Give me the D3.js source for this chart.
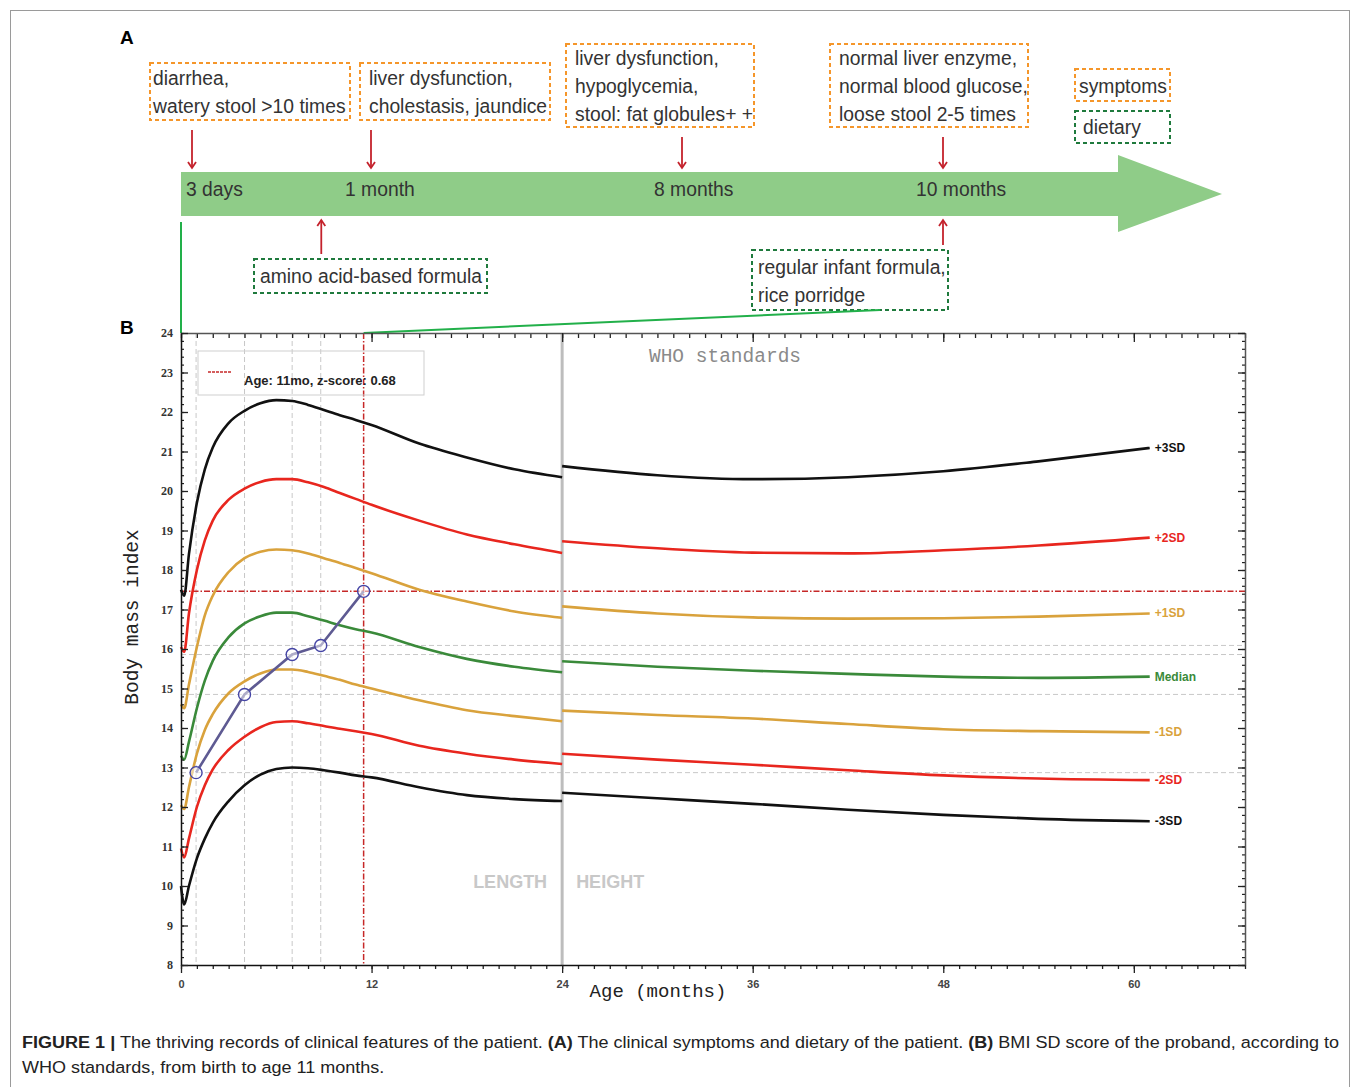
<!DOCTYPE html>
<html>
<head>
<meta charset="utf-8">
<script src="https://cdn.jsdelivr.net/npm/d3@7"></script>
<style>
  body { margin: 0; background: #fff; }
  svg { display: block; }
</style>
</head>
<body>
<svg width="1360" height="1087"></svg>
<script>
// ---- data ----
const ageLength = [0, 0.2, 0.5, 1, 1.5, 2, 3, 4, 5, 6, 7, 8, 9, 10, 11, 12, 15, 18, 21, 24];
const ageHeight = [24, 30, 36, 42, 48, 54, 61];

const sdLabels = ['+3SD', '+2SD', '+1SD', 'Median', '-1SD', '-2SD', '-3SD'];

const bmiLengthP3 = [17.5, 17.35, 18.4, 19.7, 20.55, 21.1, 21.72, 22.03, 22.22, 22.3, 22.28, 22.18, 22.05, 21.92, 21.8, 21.67, 21.2, 20.85, 20.55, 20.35];
const bmiLengthP2 = [16.05, 15.93, 16.9, 18.0, 18.75, 19.25, 19.78, 20.06, 20.23, 20.3, 20.3, 20.22, 20.1, 19.95, 19.8, 19.65, 19.25, 18.9, 18.65, 18.43];
const bmiLengthP1 = [14.6, 14.5, 15.1, 16.05, 16.85, 17.35, 17.95, 18.3, 18.46, 18.52, 18.5, 18.42, 18.3, 18.18, 18.05, 17.92, 17.5, 17.2, 16.95, 16.79];
const bmiLengthMed = [13.3, 13.2, 13.65, 14.5, 15.2, 15.7, 16.3, 16.65, 16.83, 16.92, 16.92, 16.83, 16.72, 16.6, 16.5, 16.42, 16.05, 15.75, 15.55, 15.41];
const bmiLengthM1 = [12.05, 11.95, 12.5, 13.35, 13.95, 14.35, 14.88, 15.18, 15.38, 15.48, 15.48, 15.42, 15.32, 15.22, 15.1, 15.0, 14.7, 14.45, 14.3, 14.17];
const bmiLengthM2 = [10.95, 10.72, 11.2, 12.0, 12.55, 12.95, 13.45, 13.78, 14.02, 14.15, 14.17, 14.12, 14.05, 13.98, 13.92, 13.85, 13.55, 13.35, 13.2, 13.09];
const bmiLengthM3 = [10.0, 9.53, 10.0, 10.7, 11.2, 11.6, 12.15, 12.55, 12.82, 12.96, 13.0, 12.98, 12.93, 12.87, 12.8, 12.75, 12.5, 12.3, 12.2, 12.15];

const bmiHeightP3 = [20.63, 20.4, 20.3, 20.35, 20.5, 20.75, 21.09];
const bmiHeightP2 = [18.73, 18.55, 18.44, 18.42, 18.5, 18.62, 18.82];
const bmiHeightP1 = [17.08, 16.9, 16.8, 16.77, 16.78, 16.82, 16.9];
const bmiHeightMed = [15.69, 15.55, 15.45, 15.37, 15.3, 15.27, 15.3];
const bmiHeightM1 = [14.44, 14.33, 14.24, 14.1, 13.97, 13.92, 13.89];
const bmiHeightM2 = [13.35, 13.2, 13.07, 12.93, 12.8, 12.72, 12.68];
const bmiHeightM3 = [12.36, 12.22, 12.08, 11.93, 11.8, 11.7, 11.64];

const patientAge = [0.95, 4, 7, 8.8, 11.5];
const patientBmi = [12.87, 14.85, 15.86, 16.09, 17.46];

const xTicks = [0, 12, 24, 36, 48, 60];
const yTicks = d3.range(8, 25, 1);

const legendText = 'Age: 11mo, z-score: 0.68';

const eventLabels = ['3 days', '1 month', '8 months', '10 months'];
const eventAges = [0.1, 1, 8, 10];
const symptomLines = [
    ['diarrhea,', 'watery stool >10 times'],
    ['liver dysfunction,', 'cholestasis, jaundice'],
    ['liver dysfunction,', 'hypoglycemia,', 'stool: fat globules+ +'],
    ['normal liver enzyme,', 'normal blood glucose,', 'loose stool 2-5 times']
];
const dietAges = [0.75, 10];
const dietLines = [
    ['amino acid-based formula'],
    ['regular infant formula,', 'rice porridge']
];

// ---- setup ----
const svg = d3.select('svg');
const sansFont = "'Liberation Sans', Arial, sans-serif";
const monoFont = "'Liberation Mono', 'Courier New', monospace";
const orange = '#f5962a';
const dietGreen = '#1f7a3d';
const arrowRed = '#c4222c';

svg.append('rect')
    .attr('x', 10.5).attr('y', 10.5)
    .attr('width', 1339).attr('height', 1100)
    .attr('fill', 'none').attr('stroke', '#9a9a9a');

// ---- panel A ----
svg.append('text').attr('x', 120).attr('y', 44)
    .attr('font-family', sansFont).attr('font-weight', 'bold').attr('font-size', 19)
    .text('A');

// red arrow with a small open head; dir = 1 points down, -1 points up
function redArrow(ax, y1, y2) {
    const dir = y2 > y1 ? 1 : -1;
    svg.append('line')
        .attr('x1', ax).attr('x2', ax).attr('y1', y1).attr('y2', y2)
        .attr('stroke', arrowRed).attr('stroke-width', 1.8);
    svg.append('path')
        .attr('d', `M${ax - 4},${y2 - dir * 6} L${ax},${y2} L${ax + 4},${y2 - dir * 6}`)
        .attr('fill', 'none').attr('stroke', arrowRed).attr('stroke-width', 1.8);
}

// timeline arrow
const tl = d3.scaleLinear().domain(eventAges).range([192, 371, 682, 943]);
const barTop = 172, barBottom = 216, barEnd = 1118;
svg.append('path')
    .attr('d', `M181,${barTop} L${barEnd},${barTop} L${barEnd},155 L1222,194 L${barEnd},232 L${barEnd},${barBottom} L181,${barBottom} Z`)
    .attr('fill', '#8fcc88');

const labelShift = [-6, -26, -28, -27];
eventLabels.forEach((lab, i) => {
    svg.append('g')
        .attr('transform', `translate(${tl(eventAges[i]) + labelShift[i]},196) scale(0.92,1)`)
        .append('text')
        .attr('font-family', sansFont).attr('font-size', 21).attr('fill', '#333')
        .text(lab);
});

function dashedBox(x0, y0, x1, y1, color) {
    svg.append('rect')
        .attr('x', x0).attr('y', y0)
        .attr('width', x1 - x0).attr('height', y1 - y0)
        .attr('fill', 'none').attr('stroke', color)
        .attr('stroke-width', 2).attr('stroke-dasharray', '4,3');
}

function boxText(lines, tx, ty, step) {
    lines.forEach((txt, j) => {
        svg.append('g')
            .attr('transform', `translate(${tx},${ty + j * step}) scale(0.92,1)`)
            .append('text')
            .attr('font-family', sansFont).attr('font-size', 21).attr('fill', '#333')
            .text(txt);
    });
}

// symptom boxes above the bar
const symptomBoxes = [[150, 63, 350, 120], [360, 63, 550, 120], [566, 44, 754, 127], [830, 44, 1028, 127]];
symptomLines.forEach((lines, i) => {
    const b = symptomBoxes[i];
    dashedBox(b[0], b[1], b[2], b[3], orange);
    boxText(lines, b[0] + 3 + (i === 0 ? 0 : 6), lines.length === 2 ? 85 : 65, 28);
    redArrow(tl(eventAges[i]), b[3] + 10, 168);
});

// dietary boxes below the bar
const dietBoxes = [[254, 259, 487, 293], [752, 250, 948, 310]];
dietLines.forEach((lines, i) => {
    const b = dietBoxes[i];
    dashedBox(b[0], b[1], b[2], b[3], dietGreen);
    boxText(lines, b[0] + 6, b[1] + 24, 28);
    redArrow(tl(dietAges[i]), b[1] - 5, barBottom + 4);
});

// legend boxes
dashedBox(1075, 69, 1170, 101, orange);
boxText(['symptoms'], 1079, 93, 0);
dashedBox(1075, 111, 1170, 143, dietGreen);
boxText(['dietary'], 1083, 134, 0);

// ---- panel B ----
svg.append('text').attr('x', 120).attr('y', 334)
    .attr('font-family', sansFont).attr('font-weight', 'bold').attr('font-size', 19)
    .text('B');

const pLeft = 181, pRight = 1245, pTop = 333, pBottom = 965;
const x = d3.scaleLinear().domain([0, 67]).range([pLeft, pRight]);
const y = d3.scaleLinear().domain([8, 24]).range([pBottom, pTop]);

// green connectors between panels
svg.append('line')
    .attr('x1', pLeft).attr('x2', pLeft).attr('y1', barBottom + 6).attr('y2', pTop)
    .attr('stroke', '#22b04a').attr('stroke-width', 2);
svg.append('line')
    .attr('x1', x(patientAge[patientAge.length - 1])).attr('y1', pTop)
    .attr('x2', 880).attr('y2', 310)
    .attr('stroke', '#22b04a').attr('stroke-width', 2);

const plot = svg.append('g');

// reference dashed lines of the patient measurements
const nPts = patientAge.length;
const markRed = '#c62828';
patientAge.forEach((a, i) => {
    const last = i === nPts - 1;
    plot.append('line')
        .attr('x1', x(a)).attr('x2', x(a)).attr('y1', pTop).attr('y2', pBottom)
        .attr('stroke', last ? markRed : '#c8c8c8')
        .attr('stroke-width', last ? 1.5 : 1)
        .attr('stroke-dasharray', last ? '6,2,1.5,2' : '5,3');
    plot.append('line')
        .attr('x1', pLeft).attr('x2', pRight).attr('y1', y(patientBmi[i])).attr('y2', y(patientBmi[i]))
        .attr('stroke', last ? markRed : '#c8c8c8')
        .attr('stroke-width', last ? 1.5 : 1)
        .attr('stroke-dasharray', last ? '6,2,1.5,2' : '5,3');
});

// length / height divider
plot.append('line')
    .attr('x1', x(24)).attr('x2', x(24)).attr('y1', pTop).attr('y2', pBottom)
    .attr('stroke', '#bdbdbd').attr('stroke-width', 3);

plot.append('text').attr('x', x(24) - 15).attr('y', 888).attr('text-anchor', 'end')
    .attr('font-family', sansFont).attr('font-weight', 'bold').attr('font-size', 18)
    .attr('fill', '#c8c8c8').text('LENGTH');
plot.append('text').attr('x', x(24) + 14).attr('y', 888)
    .attr('font-family', sansFont).attr('font-weight', 'bold').attr('font-size', 18)
    .attr('fill', '#c8c8c8').text('HEIGHT');

plot.append('text').attr('x', 725).attr('y', 362).attr('text-anchor', 'middle')
    .attr('font-family', monoFont).attr('font-size', 19.5).attr('fill', '#8a8a8a')
    .text('WHO standards');

// curves
const lengthSeries = [bmiLengthP3, bmiLengthP2, bmiLengthP1, bmiLengthMed, bmiLengthM1, bmiLengthM2, bmiLengthM3];
const heightSeries = [bmiHeightP3, bmiHeightP2, bmiHeightP1, bmiHeightMed, bmiHeightM1, bmiHeightM2, bmiHeightM3];
const curveColors = ['#111111', '#e8261e', '#d9a23c', '#3a8a3a', '#d9a23c', '#e8261e', '#111111'];

const curve = d3.line()
    .x(d => x(d[0]))
    .y(d => y(d[1]))
    .curve(d3.curveMonotoneX);

lengthSeries.forEach((vals, i) => {
    plot.append('path')
        .attr('d', curve(ageLength.map((a, k) => [a, vals[k]])))
        .attr('fill', 'none').attr('stroke', curveColors[i]).attr('stroke-width', 2.6);
});
heightSeries.forEach((vals, i) => {
    plot.append('path')
        .attr('d', curve(ageHeight.map((a, k) => [a, vals[k]])))
        .attr('fill', 'none').attr('stroke', curveColors[i]).attr('stroke-width', 2.6);
    plot.append('text')
        .attr('x', x(ageHeight[ageHeight.length - 1]) + 5)
        .attr('y', y(vals[vals.length - 1]) + 4)
        .attr('font-family', sansFont).attr('font-weight', 'bold').attr('font-size', 12)
        .attr('fill', curveColors[i])
        .text(sdLabels[i]);
});

// patient trajectory
const pts = patientAge.map((a, i) => [a, patientBmi[i]]);
plot.append('path')
    .attr('d', d3.line().x(d => x(d[0])).y(d => y(d[1]))(pts))
    .attr('fill', 'none').attr('stroke', '#5e5a92').attr('stroke-width', 2.6);
plot.selectAll('circle.pt').data(pts).join('circle')
    .attr('class', 'pt')
    .attr('cx', d => x(d[0])).attr('cy', d => y(d[1])).attr('r', 6)
    .attr('fill', 'rgba(255,255,255,0.5)').attr('stroke', '#4545a5').attr('stroke-width', 1.4);

// legend
plot.append('rect')
    .attr('x', 198).attr('y', 351).attr('width', 226).attr('height', 44)
    .attr('fill', 'none').attr('stroke', '#cfcfcf');
plot.append('line')
    .attr('x1', 208).attr('x2', 232).attr('y1', 372).attr('y2', 372)
    .attr('stroke', markRed).attr('stroke-width', 1.5).attr('stroke-dasharray', '3,1');
plot.append('text').attr('x', 244).attr('y', 385)
    .attr('font-family', sansFont).attr('font-weight', 'bold').attr('font-size', 13)
    .attr('fill', '#222').text(legendText);

// axes
const axisColor = '#222';
function styleAxis(g, domainColor) {
    g.select('.domain').attr('stroke', domainColor).attr('stroke-width', 1.5);
    g.selectAll('.tick line').attr('stroke', axisColor).attr('stroke-width', 1.3);
}

const gBottomMinor = svg.append('g').attr('transform', `translate(0,${pBottom})`)
    .call(d3.axisBottom(x).tickValues(d3.range(0, 68, 1)).tickSize(4).tickFormat(''));
gBottomMinor.select('.domain').remove();
gBottomMinor.selectAll('.tick line').attr('stroke', axisColor).attr('stroke-width', 1.3);

const gBottom = svg.append('g').attr('transform', `translate(0,${pBottom})`)
    .call(d3.axisBottom(x).tickValues(xTicks).tickSize(8).tickPadding(7).tickSizeOuter(0));
styleAxis(gBottom, '#111');
gBottom.selectAll('text')
    .attr('font-family', sansFont).attr('font-weight', 'bold').attr('font-size', 11).attr('fill', '#444');

const gTopMinor = svg.append('g').attr('transform', `translate(0,${pTop})`)
    .call(d3.axisTop(x).tickValues(d3.range(0, 68, 1)).tickSize(-5).tickFormat(''));
gTopMinor.select('.domain').remove();
gTopMinor.selectAll('.tick line').attr('stroke', axisColor).attr('stroke-width', 1.3);
const gTop = svg.append('g').attr('transform', `translate(0,${pTop})`)
    .call(d3.axisTop(x).tickValues(xTicks).tickSize(-9).tickFormat('').tickSizeOuter(0));
styleAxis(gTop, '#555');

const yMinor = d3.range(80, 241, 2).map(v => v / 10);
const gLeftMinor = svg.append('g').attr('transform', `translate(${pLeft},0)`)
    .call(d3.axisLeft(y).tickValues(yMinor).tickSize(-3).tickFormat(''));
gLeftMinor.select('.domain').remove();
gLeftMinor.selectAll('.tick line').attr('stroke', axisColor).attr('stroke-width', 1.2);
const gLeft = svg.append('g').attr('transform', `translate(${pLeft},0)`)
    .call(d3.axisLeft(y).tickValues(yTicks).tickSize(-7).tickPadding(8).tickSizeOuter(0));
styleAxis(gLeft, '#111');
gLeft.selectAll('text')
    .attr('font-family', "'Liberation Serif', serif").attr('font-weight', 'bold')
    .attr('font-size', 12).attr('fill', '#333');

const gRightMinor = svg.append('g').attr('transform', `translate(${pRight},0)`)
    .call(d3.axisRight(y).tickValues(yMinor).tickSize(-3).tickFormat(''));
gRightMinor.select('.domain').remove();
gRightMinor.selectAll('.tick line').attr('stroke', axisColor).attr('stroke-width', 1.2);
const gRight = svg.append('g').attr('transform', `translate(${pRight},0)`)
    .call(d3.axisRight(y).tickValues(yTicks).tickSize(-7).tickFormat('').tickSizeOuter(0));
styleAxis(gRight, '#555');

// axis titles
svg.append('text')
    .attr('transform', 'translate(138,617) rotate(-90)')
    .attr('text-anchor', 'middle')
    .attr('font-family', monoFont).attr('font-size', 19.5).attr('fill', '#222')
    .text('Body mass index');
svg.append('text')
    .attr('x', 658).attr('y', 997).attr('text-anchor', 'middle')
    .attr('font-family', monoFont).attr('font-size', 19).attr('fill', '#222')
    .text('Age (months)');

// ---- caption ----
const caption = [
    [['FIGURE 1 |', true], [' The thriving records of clinical features of the patient. ', false], ['(A)', true],
     [' The clinical symptoms and dietary of the patient. ', false], ['(B)', true],
     [' BMI SD score of the proband, according to', false]],
    [['WHO standards, from birth to age 11 months.', false]]
];
const capG = svg.append('g').attr('transform', 'translate(22,0)');
const capTexts = caption.map((parts, i) => {
    const t = capG.append('text').attr('x', 0).attr('y', 1048 + i * 25)
        .attr('font-family', sansFont).attr('font-size', 17).attr('fill', '#222');
    parts.forEach(p => t.append('tspan').attr('font-weight', p[1] ? 'bold' : 'normal').text(p[0]));
    return t;
});
const w0 = capTexts[0].node().getComputedTextLength();
const sx = 1318 / w0;
capG.attr('transform', `translate(22,0) scale(${sx},1)`);
</script>
</body>
</html>
